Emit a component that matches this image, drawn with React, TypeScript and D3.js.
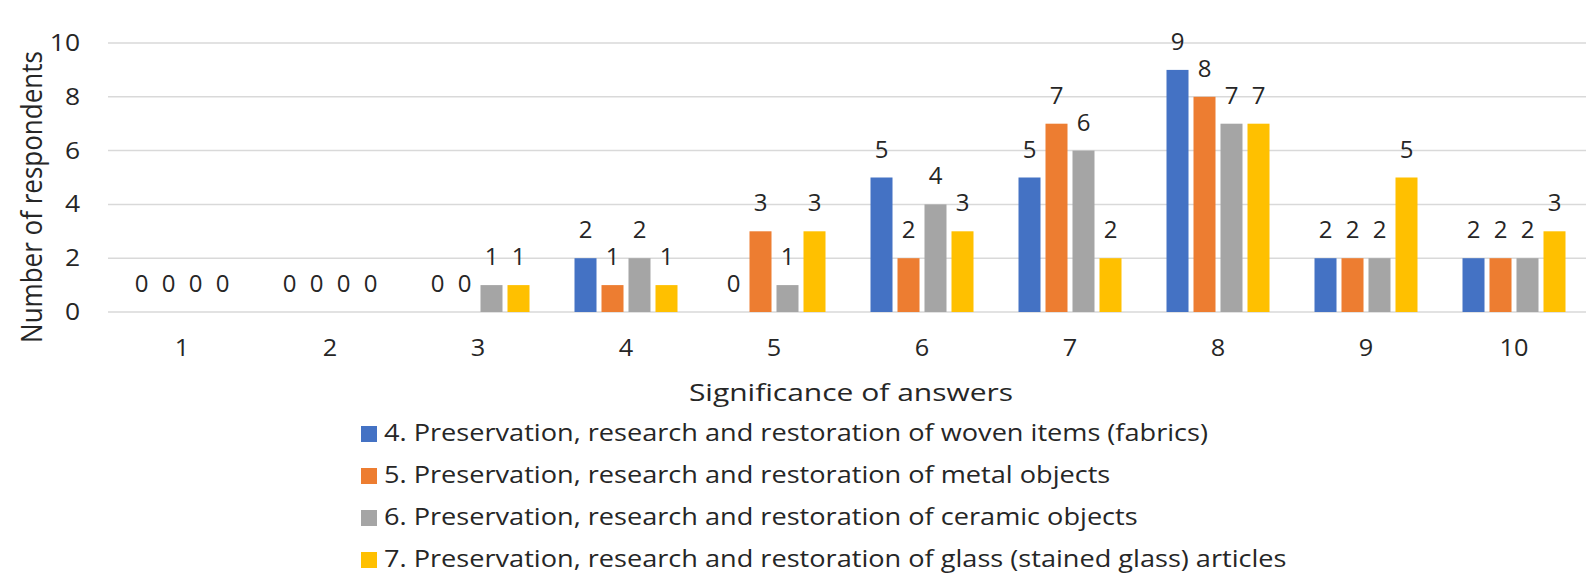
import React from 'react';
import * as d3 from 'd3';

const categories = ['1', '2', '3', '4', '5', '6', '7', '8', '9', '10'];
const seriesNames = [
  '4. Preservation, research and restoration of woven items (fabrics)',
  '5. Preservation, research and restoration of metal objects',
  '6. Preservation, research and restoration of ceramic objects',
  '7. Preservation, research and restoration of glass (stained glass) articles',
];
const wovenValues = [0, 0, 0, 2, 0, 5, 5, 9, 2, 2];
const metalValues = [0, 0, 0, 1, 3, 2, 7, 8, 2, 2];
const ceramicValues = [0, 0, 1, 2, 1, 4, 6, 7, 2, 2];
const glassValues = [0, 0, 1, 1, 3, 3, 2, 7, 5, 3];
const yTicks = [0, 2, 4, 6, 8, 10];
const colors = ['#4472C4', '#ED7D31', '#A5A5A5', '#FFC000'];

const FONT = "'Open Sans', sans-serif";
const TEXT = '#262626';

// the source picture is stretched a bit sideways, so text gets a horizontal scale
const SText = ({ x, y, sx = 1, size, anchor = 'start', dy, children }: any) => (
  <text
    transform={`translate(${x}, ${y}) scale(${sx}, 1)`}
    dy={dy}
    textAnchor={anchor}
    fontFamily={FONT}
    fontSize={size}
    fill={TEXT}
  >
    {children}
  </text>
);

const App = () => {
  const width = 1586;
  const height = 573;
  const margin = { top: 43, right: -2, bottom: 261, left: 108 };

  const series = [wovenValues, metalValues, ceramicValues, glassValues];

  const x = d3
    .scaleBand()
    .domain(categories)
    .range([margin.left, width - margin.right])
    .padding(0);

  const xInner = d3
    .scaleBand()
    .domain(seriesNames)
    .range([-51.5, 51.5])
    .paddingInner(0.185)
    .paddingOuter(0);

  const y = d3
    .scaleLinear()
    .domain([0, 10])
    .range([height - margin.bottom, margin.top]);

  return (
    <svg width={width} height={height} style={{ display: 'block', position: 'absolute', left: 0, top: 0 }}>
      <rect width={width} height={height} fill="#fff" />

      {/* gridlines */}
      {yTicks.map((t) => (
        <line
          key={'g' + t}
          x1={margin.left}
          x2={width}
          y1={y(t)}
          y2={y(t)}
          stroke="#d9d9d9"
          strokeWidth={1.5}
        />
      ))}

      {/* y tick labels */}
      {yTicks.map((t) => (
        <SText key={'yt' + t} x={80} y={y(t)} dy="0.35em" anchor="end" size={23} sx={1.15}>
          {t}
        </SText>
      ))}

      {/* y title */}
      <text
        transform={`translate(42, 197) rotate(-90) scale(1, 1.1)`}
        textAnchor="middle"
        fontFamily={FONT}
        fontSize={26}
        fill={TEXT}
      >
        Number of respondents
      </text>

      {/* bars */}
      {series.map((vals, si) =>
        vals.map((v, ci) => {
          const cx = x(categories[ci])! + x.bandwidth() / 2;
          const bx = cx + xInner(seriesNames[si])!;
          return (
            <rect
              key={`b${si}-${ci}`}
              x={bx}
              y={y(v)}
              width={xInner.bandwidth()}
              height={y(0) - y(v)}
              fill={colors[si]}
            />
          );
        })
      )}

      {/* data labels */}
      {series.map((vals, si) =>
        vals.map((v, ci) => {
          const cx = x(categories[ci])! + x.bandwidth() / 2;
          const bx = cx + xInner(seriesNames[si])! + xInner.bandwidth() / 2;
          return (
            <SText key={`l${si}-${ci}`} x={bx} y={y(v) - 20} anchor="middle" size={24}>
              {v}
            </SText>
          );
        })
      )}

      {/* x tick labels */}
      {categories.map((c) => (
        <SText key={'xt' + c} x={x(c)! + x.bandwidth() / 2} y={356} anchor="middle" size={23} sx={1.1}>
          {c}
        </SText>
      ))}

      {/* x title */}
      <SText x={851} y={401} anchor="middle" size={24} sx={1.25}>
        Significance of answers
      </SText>

      {/* legend */}
      {seriesNames.map((name, i) => (
        <g key={'lg' + i} transform={`translate(361, ${433 + i * 42})`}>
          <rect x={0} y={-7} width={16} height={16} fill={colors[i]} />
          <SText x={23} y={0} dy="0.35em" size={23} sx={1.18}>
            {name}
          </SText>
        </g>
      ))}
    </svg>
  );
};

export default App;
